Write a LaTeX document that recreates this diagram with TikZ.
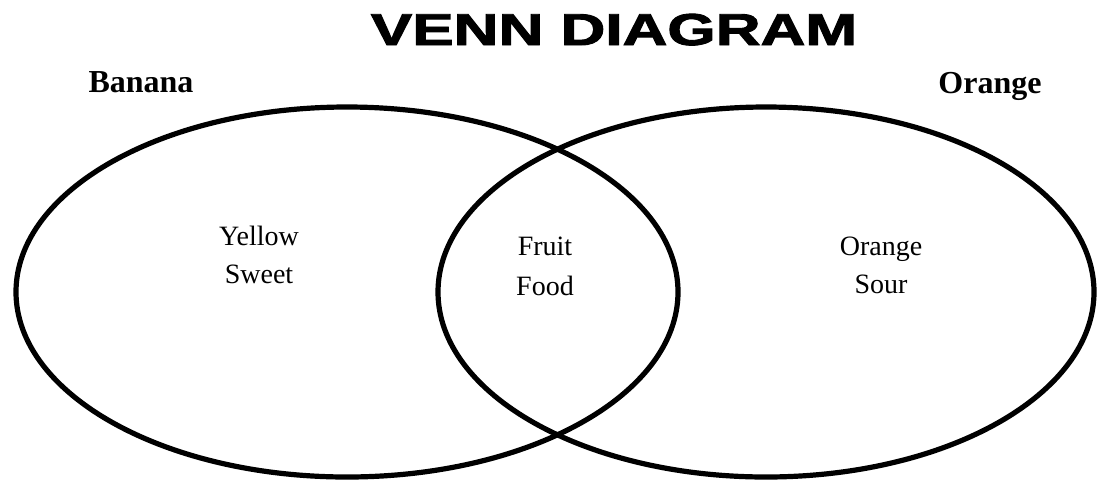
\documentclass[tikz,border=0pt]{standalone}
\usepackage{fontspec}
\setmainfont{Liberation Serif}
\newfontfamily\titlefont[FakeBold=2]{Liberation Sans Bold}
\tikzset{
  venn/.style={line width=3.9pt, black},
  inner/.style={font=\fontsize{21}{25}\selectfont, anchor=base, inner sep=0pt},
  setlabel/.style={font=\fontsize{24}{28}\selectfont\bfseries, anchor=base, inner sep=0pt},
}
\begin{document}
\begin{tikzpicture}[x=0.75pt,y=-0.75pt]
\useasboundingbox (0,0) rectangle (1099,480);
% ellipses
\draw[venn] (347,292) ellipse [x radius=331, y radius=185];
\draw[venn] (766,292) ellipse [x radius=328, y radius=185];
% title
\node[anchor=base, inner sep=0pt] (title) at (614,45) {\scalebox{1.39}[1]{\titlefont\fontsize{33.5}{36}\selectfont VENN DIAGRAM}};
% set labels
\node[setlabel] (banana) at (141,92) {Banana};
\node[setlabel] (orange) at (990,93) {Orange};
% region texts
\node[inner] (yellow) at (259,245) {Yellow};
\node[inner] (sweet) at (259,283) {Sweet};
\node[inner] (fruit) at (545,255) {Fruit};
\node[inner] (food) at (545,295) {Food};
\node[inner] (orangec) at (881,255) {Orange};
\node[inner] (sour) at (881,293) {Sour};
\end{tikzpicture}
\end{document}
